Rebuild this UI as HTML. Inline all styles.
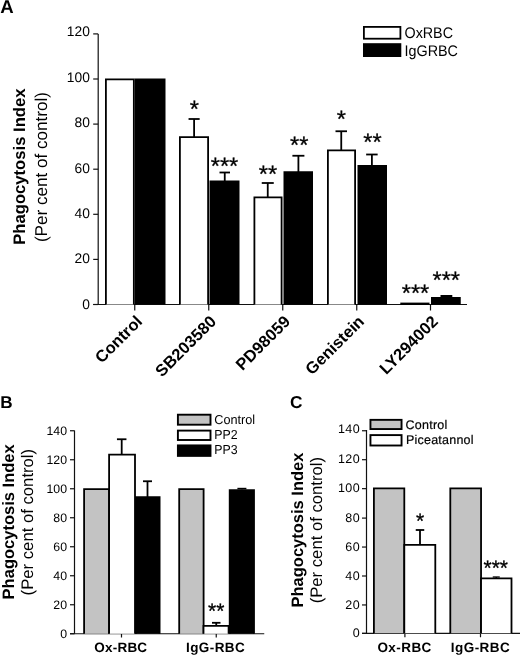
<!DOCTYPE html>
<html lang="en"><head><meta charset="utf-8"><title>Phagocytosis Index figure</title>
<style>
html,body{margin:0;padding:0;background:#fff;}
body{width:520px;height:655px;overflow:hidden;}
svg{display:block;font-family:'Liberation Sans', Arial, Helvetica, sans-serif;}
</style></head><body>
<svg width="520" height="655" viewBox="0 0 520 655" style="font-family:'Liberation Sans', Arial, Helvetica, sans-serif" text-rendering="geometricPrecision">
<rect x="0" y="0" width="520" height="655" fill="#fff"/>
<text x="0.2" y="12.5" font-size="18.6" font-weight="bold" text-anchor="start" fill="#000">A</text>
<line x1="98.2" y1="33.9" x2="98.2" y2="304.5" stroke="#111" stroke-width="1.2"/>
<line x1="93.2" y1="304.5" x2="467" y2="304.5" stroke="#111" stroke-width="1.2"/>
<line x1="93.2" y1="304.5" x2="98.2" y2="304.5" stroke="#111" stroke-width="1.2"/>
<text x="89.9" y="308.8" font-size="13.8" text-anchor="end" fill="#000">0</text>
<line x1="93.2" y1="259.4" x2="98.2" y2="259.4" stroke="#111" stroke-width="1.2"/>
<text x="89.9" y="263.37" font-size="13.8" text-anchor="end" fill="#000">20</text>
<line x1="93.2" y1="214.3" x2="98.2" y2="214.3" stroke="#111" stroke-width="1.2"/>
<text x="89.9" y="217.93" font-size="13.8" text-anchor="end" fill="#000">40</text>
<line x1="93.2" y1="169.2" x2="98.2" y2="169.2" stroke="#111" stroke-width="1.2"/>
<text x="89.9" y="172.5" font-size="13.8" text-anchor="end" fill="#000">60</text>
<line x1="93.2" y1="124.1" x2="98.2" y2="124.1" stroke="#111" stroke-width="1.2"/>
<text x="89.9" y="127.46" font-size="13.8" text-anchor="end" fill="#000">80</text>
<line x1="93.2" y1="79.0" x2="98.2" y2="79.0" stroke="#111" stroke-width="1.2"/>
<text x="89.9" y="82.43" font-size="13.8" text-anchor="end" fill="#000">100</text>
<line x1="93.2" y1="33.89999999999998" x2="98.2" y2="33.89999999999998" stroke="#111" stroke-width="1.2"/>
<text x="89.9" y="36.2" font-size="13.8" text-anchor="end" fill="#000">120</text>
<line x1="134.75" y1="304.5" x2="134.75" y2="310.5" stroke="#111" stroke-width="1.2"/>
<line x1="208.75" y1="304.5" x2="208.75" y2="310.5" stroke="#111" stroke-width="1.2"/>
<line x1="282.75" y1="304.5" x2="282.75" y2="310.5" stroke="#111" stroke-width="1.2"/>
<line x1="356.75" y1="304.5" x2="356.75" y2="310.5" stroke="#111" stroke-width="1.2"/>
<line x1="430.5" y1="304.5" x2="430.5" y2="310.5" stroke="#111" stroke-width="1.2"/>
<path d="M105.9 304.5V79.3H133.85V304.5" fill="#fff" stroke="#000" stroke-width="1.8"/>
<path d="M135.65 304.5V79.3H164.6V304.5" fill="#000" stroke="#000" stroke-width="1.8"/>
<path d="M179.9 304.5V137.1H208.1V304.5" fill="#fff" stroke="#000" stroke-width="1.8"/>
<path d="M210.4 304.5V181.4H238.6V304.5" fill="#000" stroke="#000" stroke-width="1.8"/>
<path d="M254.4 304.5V197.4H281.6V304.5" fill="#fff" stroke="#000" stroke-width="1.8"/>
<path d="M284.4 304.5V172.15H312.1V304.5" fill="#000" stroke="#000" stroke-width="1.8"/>
<path d="M327.9 304.5V150.4H355.1V304.5" fill="#fff" stroke="#000" stroke-width="1.8"/>
<path d="M358.4 304.5V165.9H386.1V304.5" fill="#000" stroke="#000" stroke-width="1.8"/>
<rect x="400.3" y="302.6" width="29.2" height="2.4" fill="#000"/>
<path d="M431.9 304.5V297.9H459.85V304.5" fill="#000" stroke="#000" stroke-width="1.8"/>
<line x1="194.1" y1="119" x2="194.1" y2="137" stroke="#000" stroke-width="1.8"/>
<line x1="188.54999999999998" y1="119" x2="199.65" y2="119" stroke="#000" stroke-width="1.8"/>
<line x1="224.75" y1="172.5" x2="224.75" y2="181" stroke="#000" stroke-width="1.8"/>
<line x1="219.5" y1="172.5" x2="230.0" y2="172.5" stroke="#000" stroke-width="1.8"/>
<line x1="267.75" y1="183" x2="267.75" y2="197" stroke="#000" stroke-width="1.8"/>
<line x1="261.75" y1="183" x2="273.75" y2="183" stroke="#000" stroke-width="1.8"/>
<line x1="298.4" y1="155.75" x2="298.4" y2="172" stroke="#000" stroke-width="1.8"/>
<line x1="292.4" y1="155.75" x2="304.4" y2="155.75" stroke="#000" stroke-width="1.8"/>
<line x1="341.25" y1="131.25" x2="341.25" y2="150" stroke="#000" stroke-width="1.8"/>
<line x1="335.5" y1="131.25" x2="347.0" y2="131.25" stroke="#000" stroke-width="1.8"/>
<line x1="371.9" y1="154.5" x2="371.9" y2="166" stroke="#000" stroke-width="1.8"/>
<line x1="366.15" y1="154.5" x2="377.65" y2="154.5" stroke="#000" stroke-width="1.8"/>
<line x1="446.4" y1="296" x2="446.4" y2="297.5" stroke="#000" stroke-width="2.0"/>
<line x1="440.5" y1="296" x2="452.29999999999995" y2="296" stroke="#000" stroke-width="2.0"/>
<text x="194.25" y="117.13" font-size="23.6" text-anchor="middle" fill="#000" stroke="#000" stroke-width="0.3">*</text>
<text x="224.5" y="174.13" font-size="23.6" text-anchor="middle" fill="#000" stroke="#000" stroke-width="0.3">***</text>
<text x="268" y="181.93" font-size="23.6" text-anchor="middle" fill="#000" stroke="#000" stroke-width="0.3">**</text>
<text x="299.25" y="152.88" font-size="23.6" text-anchor="middle" fill="#000" stroke="#000" stroke-width="0.3">**</text>
<text x="341.25" y="127.13" font-size="23.6" text-anchor="middle" fill="#000" stroke="#000" stroke-width="0.3">*</text>
<text x="372.5" y="150.38" font-size="23.6" text-anchor="middle" fill="#000" stroke="#000" stroke-width="0.3">**</text>
<text x="415.5" y="301.13" font-size="23.6" text-anchor="middle" fill="#000" stroke="#000" stroke-width="0.3">***</text>
<text x="446.25" y="287.88" font-size="23.6" text-anchor="middle" fill="#000" stroke="#000" stroke-width="0.3">***</text>
<rect x="363.9" y="26.9" width="36.5" height="11.8" fill="#fff" stroke="#000" stroke-width="1.8"/>
<rect x="363.9" y="44.1" width="36.5" height="12.0" fill="#000" stroke="#000" stroke-width="1.8"/>
<text x="404.5" y="38.1" font-size="15.4" text-anchor="start" fill="#000" textLength="48.5" lengthAdjust="spacingAndGlyphs">OxRBC</text>
<text x="404.5" y="55.6" font-size="15.4" text-anchor="start" fill="#000" textLength="53.5" lengthAdjust="spacingAndGlyphs">IgGRBC</text>
<text transform="translate(25.4,244.8) rotate(-90)" font-size="16.65" font-weight="bold">Phagocytosis Index</text>
<text transform="translate(46.9,242.1) rotate(-90)" font-size="17.1">(Per cent of control)</text>
<text transform="translate(143.25,322.5) rotate(-45)" font-size="16.5" font-weight="bold" text-anchor="end">Control</text>
<text transform="translate(217.25,322.5) rotate(-45)" font-size="16.5" font-weight="bold" text-anchor="end">SB203580</text>
<text transform="translate(291.25,322.5) rotate(-45)" font-size="16.5" font-weight="bold" text-anchor="end">PD98059</text>
<text transform="translate(365.25,322.5) rotate(-45)" font-size="16.5" font-weight="bold" text-anchor="end">Genistein</text>
<text transform="translate(439.0,322.5) rotate(-45)" font-size="16.5" font-weight="bold" text-anchor="end">LY294002</text>
<text x="0.3" y="408.2" font-size="17.1" font-weight="bold" text-anchor="start" fill="#000">B</text>
<line x1="74.5" y1="430.5" x2="74.5" y2="633.75" stroke="#111" stroke-width="1.2"/>
<line x1="70" y1="633.75" x2="264.25" y2="633.75" stroke="#111" stroke-width="1.2"/>
<line x1="70" y1="633.75" x2="74.5" y2="633.75" stroke="#111" stroke-width="1.2"/>
<text x="67.0" y="637.65" font-size="12.3" text-anchor="end" fill="#000">0</text>
<line x1="70" y1="604.75" x2="74.5" y2="604.75" stroke="#111" stroke-width="1.2"/>
<text x="67.0" y="608.65" font-size="12.3" text-anchor="end" fill="#000">20</text>
<line x1="70" y1="575.75" x2="74.5" y2="575.75" stroke="#111" stroke-width="1.2"/>
<text x="67.0" y="579.65" font-size="12.3" text-anchor="end" fill="#000">40</text>
<line x1="70" y1="546.75" x2="74.5" y2="546.75" stroke="#111" stroke-width="1.2"/>
<text x="67.0" y="550.65" font-size="12.3" text-anchor="end" fill="#000">60</text>
<line x1="70" y1="517.75" x2="74.5" y2="517.75" stroke="#111" stroke-width="1.2"/>
<text x="67.0" y="521.65" font-size="12.3" text-anchor="end" fill="#000">80</text>
<line x1="70" y1="488.75" x2="74.5" y2="488.75" stroke="#111" stroke-width="1.2"/>
<text x="67.0" y="492.65" font-size="12.3" text-anchor="end" fill="#000">100</text>
<line x1="70" y1="459.75" x2="74.5" y2="459.75" stroke="#111" stroke-width="1.2"/>
<text x="67.0" y="463.65" font-size="12.3" text-anchor="end" fill="#000">120</text>
<line x1="70" y1="430.75" x2="74.5" y2="430.75" stroke="#111" stroke-width="1.2"/>
<text x="67.0" y="434.65" font-size="12.3" text-anchor="end" fill="#000">140</text>
<line x1="121.5" y1="633.75" x2="121.5" y2="637.5" stroke="#111" stroke-width="1.2"/>
<line x1="216.25" y1="633.75" x2="216.25" y2="637.5" stroke="#111" stroke-width="1.2"/>
<path d="M84.1 633.75V489.05H109.1V633.75" fill="#c3c3c3" stroke="#000" stroke-width="1.8"/>
<path d="M109.1 633.75V454.7H135.0V633.75" fill="#fff" stroke="#000" stroke-width="1.8"/>
<path d="M135.9 633.75V497.15H159.6V633.75" fill="#000" stroke="#000" stroke-width="1.8"/>
<path d="M179.2 633.75V489.05H203.6V633.75" fill="#c3c3c3" stroke="#000" stroke-width="1.8"/>
<path d="M203.5 633.75V625.8H228.6V633.75" fill="#fff" stroke="#000" stroke-width="1.8"/>
<path d="M229.7 633.75V490.15H254.0V633.75" fill="#000" stroke="#000" stroke-width="1.8"/>
<line x1="121.7" y1="439.25" x2="121.7" y2="455" stroke="#000" stroke-width="1.8"/>
<line x1="116.95" y1="439.25" x2="126.45" y2="439.25" stroke="#000" stroke-width="1.8"/>
<line x1="147.5" y1="481.25" x2="147.5" y2="497" stroke="#000" stroke-width="1.8"/>
<line x1="143.0" y1="481.25" x2="152.0" y2="481.25" stroke="#000" stroke-width="1.8"/>
<line x1="216.25" y1="622.8" x2="216.25" y2="626" stroke="#000" stroke-width="1.8"/>
<line x1="212.0" y1="622.8" x2="220.5" y2="622.8" stroke="#000" stroke-width="1.8"/>
<line x1="241.9" y1="488.6" x2="241.9" y2="489.3" stroke="#000" stroke-width="1.6"/>
<line x1="237.4" y1="488.6" x2="246.4" y2="488.6" stroke="#000" stroke-width="1.6"/>
<text x="216.25" y="618.41" font-size="21" text-anchor="middle" fill="#000" stroke="#000" stroke-width="0.3">**</text>
<rect x="177.9" y="414.7" width="32.6" height="10.0" fill="#c3c3c3" stroke="#000" stroke-width="1.9"/>
<rect x="177.9" y="430.6" width="32.6" height="9.4" fill="#fff" stroke="#000" stroke-width="1.9"/>
<rect x="177.9" y="445.4" width="32.6" height="10.5" fill="#000" stroke="#000" stroke-width="1.9"/>
<text x="214.3" y="424.1" font-size="13.0" text-anchor="start" fill="#000" textLength="40.9" lengthAdjust="spacingAndGlyphs">Control</text>
<text x="214.3" y="439.0" font-size="13.0" text-anchor="start" fill="#000" textLength="23.3" lengthAdjust="spacingAndGlyphs">PP2</text>
<text x="214.3" y="454.2" font-size="13.0" text-anchor="start" fill="#000" textLength="23.3" lengthAdjust="spacingAndGlyphs">PP3</text>
<text transform="translate(13.7,599.4) rotate(-90)" font-size="16.53" font-weight="bold">Phagocytosis Index</text>
<text transform="translate(32.9,595.4) rotate(-90)" font-size="16.7">(Per cent of control)</text>
<text x="94.2" y="651.7" font-size="13.5" font-weight="bold" text-anchor="start" fill="#000" textLength="52.9" lengthAdjust="spacing">Ox-RBC</text>
<text x="186.0" y="651.7" font-size="13.5" font-weight="bold" text-anchor="start" fill="#000" textLength="58.7" lengthAdjust="spacing">IgG-RBC</text>
<text x="290" y="408.4" font-size="17.3" font-weight="bold" text-anchor="start" fill="#000">C</text>
<line x1="366.5" y1="430" x2="366.5" y2="633.4" stroke="#111" stroke-width="1.2"/>
<line x1="362" y1="633.4" x2="520" y2="633.4" stroke="#111" stroke-width="1.2"/>
<line x1="362" y1="633.4" x2="366.5" y2="633.4" stroke="#111" stroke-width="1.2"/>
<text x="359.8" y="637.3" font-size="12.5" text-anchor="end" fill="#000" textLength="7.1" lengthAdjust="spacing">0</text>
<line x1="362" y1="604.9499999999999" x2="366.5" y2="604.9499999999999" stroke="#111" stroke-width="1.2"/>
<text x="359.8" y="608.85" font-size="12.5" text-anchor="end" fill="#000" textLength="14.6" lengthAdjust="spacing">20</text>
<line x1="362" y1="576.0" x2="366.5" y2="576.0" stroke="#111" stroke-width="1.2"/>
<text x="359.8" y="579.9" font-size="12.5" text-anchor="end" fill="#000" textLength="14.6" lengthAdjust="spacing">40</text>
<line x1="362" y1="547.05" x2="366.5" y2="547.05" stroke="#111" stroke-width="1.2"/>
<text x="359.8" y="550.95" font-size="12.5" text-anchor="end" fill="#000" textLength="14.6" lengthAdjust="spacing">60</text>
<line x1="362" y1="518.1" x2="366.5" y2="518.1" stroke="#111" stroke-width="1.2"/>
<text x="359.8" y="522.0" font-size="12.5" text-anchor="end" fill="#000" textLength="14.6" lengthAdjust="spacing">80</text>
<line x1="362" y1="488.65" x2="366.5" y2="488.65" stroke="#111" stroke-width="1.2"/>
<text x="359.8" y="491.85" font-size="12.5" text-anchor="end" fill="#000" textLength="21.9" lengthAdjust="spacing">100</text>
<line x1="362" y1="459.7" x2="366.5" y2="459.7" stroke="#111" stroke-width="1.2"/>
<text x="359.8" y="463.3" font-size="12.5" text-anchor="end" fill="#000" textLength="21.9" lengthAdjust="spacing">120</text>
<line x1="362" y1="430.75" x2="366.5" y2="430.75" stroke="#111" stroke-width="1.2"/>
<text x="359.8" y="433.15" font-size="12.5" text-anchor="end" fill="#000" textLength="21.9" lengthAdjust="spacing">140</text>
<line x1="404.9" y1="633.25" x2="404.9" y2="637.25" stroke="#111" stroke-width="1.2"/>
<line x1="480.5" y1="633.25" x2="480.5" y2="637.25" stroke="#111" stroke-width="1.2"/>
<path d="M373.9 633.25V488.45H404.3V633.25" fill="#c3c3c3" stroke="#000" stroke-width="1.8"/>
<path d="M404.3 633.25V544.9H435.3V633.25" fill="#fff" stroke="#000" stroke-width="1.8"/>
<path d="M450.3 633.25V488.45H481.05V633.25" fill="#c3c3c3" stroke="#000" stroke-width="1.8"/>
<path d="M481.05 633.25V578.3H511.5V633.25" fill="#fff" stroke="#000" stroke-width="1.8"/>
<line x1="420" y1="530" x2="420" y2="545" stroke="#000" stroke-width="1.8"/>
<line x1="415.75" y1="530" x2="424.25" y2="530" stroke="#000" stroke-width="1.8"/>
<line x1="496.25" y1="577.0" x2="496.25" y2="578" stroke="#000" stroke-width="1.3"/>
<line x1="492.75" y1="577.0" x2="499.75" y2="577.0" stroke="#000" stroke-width="1.3"/>
<text x="420" y="528.41" font-size="21" text-anchor="middle" fill="#000" stroke="#000" stroke-width="0.3">*</text>
<text x="495.75" y="574.66" font-size="21" text-anchor="middle" fill="#000" stroke="#000" stroke-width="0.3">***</text>
<rect x="370.45" y="419.85" width="31.1" height="9.2" fill="#c3c3c3" stroke="#000" stroke-width="1.9"/>
<rect x="370.45" y="435.1" width="31.1" height="10.4" fill="#fff" stroke="#000" stroke-width="1.9"/>
<text x="405.6" y="428.75" font-size="12.5" text-anchor="start" fill="#000" textLength="41.7" lengthAdjust="spacing" stroke="#000" stroke-width="0.2">Control</text>
<text x="406.0" y="443.9" font-size="12.5" text-anchor="start" fill="#000" textLength="67.5" lengthAdjust="spacing" stroke="#000" stroke-width="0.2">Piceatannol</text>
<text transform="translate(303,607.5) rotate(-90)" font-size="16.5" font-weight="bold">Phagocytosis Index</text>
<text transform="translate(322.2,603.3) rotate(-90)" font-size="16.66">(Per cent of control)</text>
<text x="377.4" y="651.6" font-size="13.5" font-weight="bold" text-anchor="start" fill="#000" textLength="53.9" lengthAdjust="spacing">Ox-RBC</text>
<text x="450.7" y="651.6" font-size="13.5" font-weight="bold" text-anchor="start" fill="#000" textLength="59.1" lengthAdjust="spacing">IgG-RBC</text>
</svg>
</body></html>
